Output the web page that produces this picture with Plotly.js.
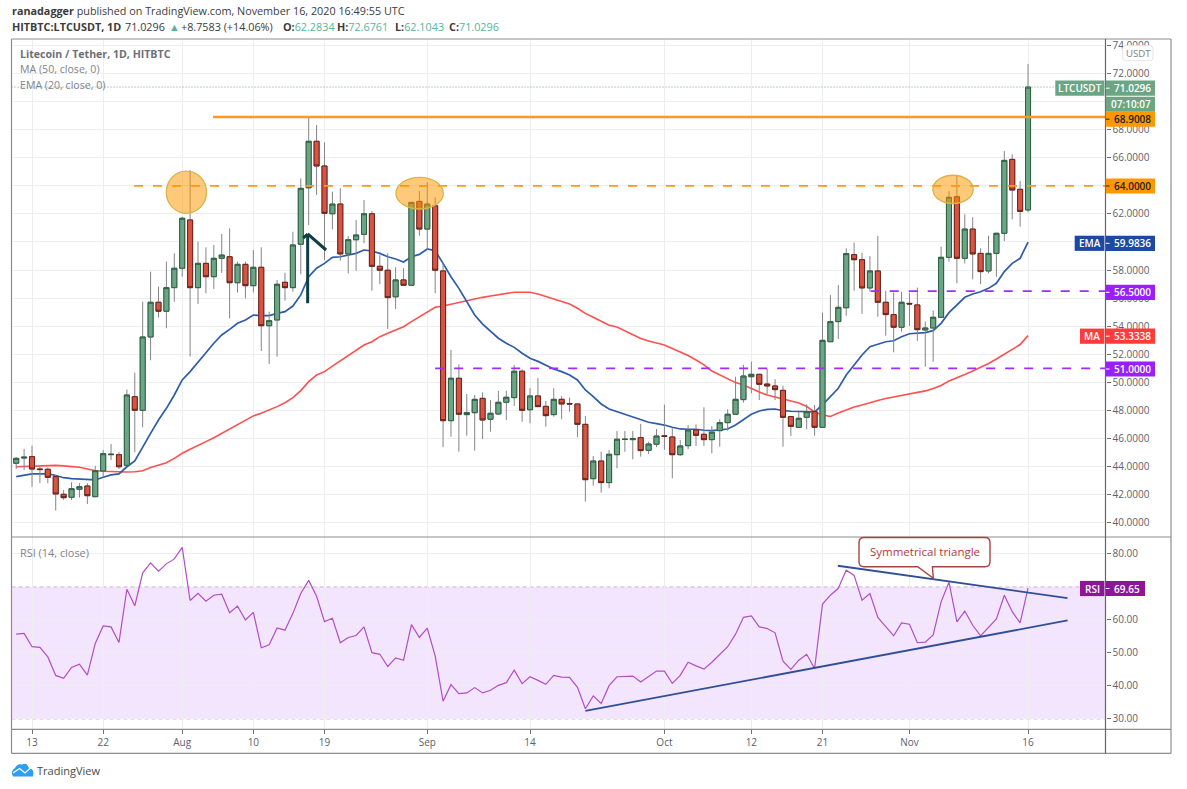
<!DOCTYPE html>
<html><head><meta charset="utf-8">
<script src="https://cdn.plot.ly/plotly-3.0.1.min.js"></script>
<style>html,body{margin:0;padding:0;background:#fff}#c{width:1187px;height:789px}</style></head>
<body><div id="c"></div>
<script>
// ---------- data ----------
const firstDay = Date.UTC(2020, 6, 11);
const openVals = [
44.25,44.62,44.72,43.84,43.82,43.30,42.04,41.83,42.40,42.63,
41.87,43.70,44.86,44.86,44.10,48.99,48.02,53.24,55.71,55.07,
56.75,58.13,61.57,56.75,58.48,57.53,58.84,58.95,57.10,58.41,
56.89,58.20,54.04,54.45,57.13,56.75,59.84,63.86,67.17,65.41,
62.01,62.70,59.15,60.16,60.55,62.01,58.27,57.99,56.10,57.30,
56.92,62.89,60.92,62.58,57.94,47.28,50.30,47.71,47.85,48.87,
47.38,47.76,48.59,48.92,50.80,48.06,49.04,48.30,47.71,48.80,
48.50,48.47,47.02,43.15,44.41,42.87,44.86,45.94,45.93,46.07,
45.17,45.60,46.20,46.12,44.86,45.50,46.62,46.31,45.93,46.57,
47.14,47.74,48.78,50.41,50.58,49.89,49.75,49.44,47.57,46.81,
47.52,47.92,46.81,52.90,54.33,55.32,59.10,58.74,56.73,57.94,
55.71,54.83,53.93,55.63,55.52,53.74,53.88,54.64,58.91,63.22,
58.84,60.92,59.19,57.94,59.19,60.62,65.88,63.75,62.2834];
const closeVals = [
44.60,44.68,43.84,43.80,43.25,42.06,41.80,42.44,42.58,41.94,
43.72,44.93,44.89,44.00,49.11,48.02,53.24,55.71,55.07,56.75,
58.13,61.69,56.75,58.48,57.53,58.84,59.07,57.10,58.41,56.89,
58.20,54.04,54.40,56.99,56.75,59.79,63.82,67.17,65.41,62.04,
62.70,59.15,60.16,60.50,62.01,58.27,57.99,56.04,57.30,56.92,
62.82,60.92,62.70,57.99,47.28,50.30,47.74,47.85,48.80,47.33,
47.81,48.59,48.95,50.80,48.02,49.04,48.28,47.64,48.80,48.47,
48.47,47.02,43.08,44.41,42.87,44.89,45.96,45.96,46.00,45.15,
45.62,46.19,46.17,44.86,45.48,46.62,46.24,45.93,46.46,47.14,
47.74,48.80,50.46,50.58,49.87,49.75,49.49,47.52,46.88,47.45,
47.92,46.81,53.00,54.33,55.35,59.17,58.74,56.73,57.94,55.71,
54.83,53.93,55.71,55.59,53.76,53.88,54.64,58.91,63.18,58.84,
60.92,59.15,57.89,59.19,60.62,65.81,63.70,62.18,71.0296];
const highVals = [
44.68,45.27,45.50,44.00,43.95,43.42,42.35,42.90,42.83,42.83,
44.06,45.20,45.62,45.05,49.50,50.70,55.75,57.89,56.82,58.60,
59.20,61.80,65.12,60.02,59.62,59.79,60.57,60.97,58.60,58.60,
59.43,59.62,55.04,57.30,57.81,60.73,64.53,68.87,68.33,67.10,
63.58,63.82,60.43,61.57,62.99,62.21,59.07,59.20,58.20,58.13,
62.85,63.63,64.25,63.18,58.55,52.31,51.30,49.18,49.11,49.30,
48.75,49.40,49.40,51.25,50.94,49.59,50.30,48.68,49.59,49.04,
48.92,48.47,47.62,44.77,45.07,45.20,46.55,46.55,46.55,47.05,
45.79,46.69,48.42,46.74,45.91,46.97,47.02,48.23,46.90,47.38,
48.09,50.41,51.25,51.48,50.58,50.96,50.23,49.77,47.57,47.92,
48.45,48.40,54.97,56.23,56.94,59.55,59.95,59.24,59.00,60.43,
56.53,56.39,56.46,56.39,56.75,54.33,55.11,59.67,63.63,64.77,
61.97,61.76,59.55,60.45,60.65,66.47,66.24,64.34,72.6761];
const lowVals = [
43.84,43.77,42.58,42.83,42.83,40.88,41.64,41.64,41.80,41.35,
41.87,43.30,44.48,43.84,44.05,45.03,46.81,51.58,54.61,53.86,
55.75,57.53,51.84,55.59,56.35,56.65,57.80,54.57,56.40,55.99,
56.40,52.24,51.32,51.84,55.82,56.46,57.70,61.20,63.35,58.72,
60.90,58.67,57.77,57.94,59.91,56.53,56.99,53.81,55.23,56.90,
56.90,60.45,59.43,56.35,45.39,46.14,45.07,46.21,45.15,45.96,
46.50,47.69,47.33,48.33,47.20,47.10,48.25,46.85,47.57,47.38,
47.92,46.10,41.52,42.65,42.16,42.47,43.89,45.07,44.53,44.72,
44.91,45.39,45.20,43.18,44.77,45.25,45.48,45.48,44.96,45.43,
46.57,47.70,48.56,49.23,48.75,49.18,48.75,45.43,46.19,46.80,
46.67,46.21,46.80,52.90,53.10,54.75,56.53,54.88,56.46,54.68,
53.33,52.15,53.62,54.02,52.97,51.12,51.48,54.60,58.60,57.06,
58.48,57.34,56.99,57.77,57.53,60.07,61.62,61.09,62.1043];
const emaVals = [
43.30,43.40,43.49,43.50,43.51,43.38,43.22,43.16,43.11,43.08,
43.06,43.25,43.42,43.49,44.00,44.41,45.43,46.38,47.33,48.16,
49.11,50.18,50.77,51.48,52.12,52.79,53.38,53.78,54.21,54.45,
54.80,54.76,54.76,54.92,55.04,55.44,56.23,57.53,58.13,58.48,
58.91,58.95,59.07,59.19,59.43,59.36,59.19,58.95,58.79,58.58,
58.95,59.12,59.50,59.38,58.48,57.53,56.70,55.75,54.80,54.16,
53.62,53.15,52.79,52.50,52.08,51.72,51.50,51.20,50.96,50.77,
50.53,50.18,49.47,48.99,48.47,48.11,47.92,47.74,47.57,47.33,
47.17,47.07,46.97,46.81,46.69,46.67,46.67,46.60,46.57,46.62,
46.69,46.97,47.33,47.74,47.97,48.09,48.11,47.99,47.95,47.92,
47.92,47.90,48.40,48.99,49.59,50.53,51.25,51.96,52.55,52.74,
52.90,52.97,53.26,53.47,53.50,53.55,53.69,54.21,54.97,55.52,
56.06,56.30,56.46,56.70,57.06,57.89,58.48,58.84,59.9836];
const maVals = [
44.00,44.02,44.04,44.08,44.13,44.10,44.06,44.01,43.96,43.84,
43.72,43.68,43.65,43.63,43.63,43.65,43.72,43.94,44.13,44.29,
44.60,44.96,45.25,45.50,45.79,46.07,46.38,46.67,46.97,47.28,
47.62,47.81,48.02,48.28,48.56,48.92,49.42,50.06,50.53,50.77,
51.17,51.55,51.91,52.26,52.67,52.90,53.26,53.50,53.74,53.97,
54.33,54.68,55.04,55.35,55.44,55.57,55.68,55.80,55.94,56.06,
56.16,56.25,56.32,56.42,56.42,56.42,56.30,56.11,55.94,55.78,
55.59,55.28,54.92,54.64,54.38,54.07,53.95,53.67,53.38,53.13,
52.95,52.81,52.67,52.42,52.17,51.92,51.60,51.25,50.82,50.53,
50.25,49.99,49.82,49.54,49.32,49.11,48.97,48.86,48.68,48.54,
48.29,47.90,47.69,47.58,47.83,48.04,48.26,48.40,48.58,48.72,
48.86,48.97,49.07,49.18,49.29,49.40,49.57,49.79,50.11,50.32,
50.57,50.82,51.06,51.35,51.67,52.03,52.38,52.70,53.3338];
const rsiVals = [
55.7,55.9,51.9,51.7,48.8,43.2,42.3,45.6,46.6,43.3,
52.9,58.2,57.9,53.2,69.3,64.3,74.3,77.3,74.8,77.0,
78.5,82.0,65.9,68.1,65.7,67.5,67.8,62.2,64.2,60.0,
62.3,51.6,52.5,57.6,56.9,62.0,68.0,72.0,67.2,59.5,
60.5,53.1,54.7,55.3,57.9,50.1,49.6,45.9,48.5,47.8,
58.6,54.7,57.5,49.1,35.4,40.4,37.7,37.9,39.5,37.9,
38.7,40.2,41.0,44.8,40.7,42.8,41.7,40.5,43.2,42.7,
42.6,39.6,33.1,37.0,34.7,40.1,42.8,42.8,43.0,41.2,
42.8,44.5,44.5,40.8,43.2,47.2,46.1,45.1,47.2,49.6,
51.9,55.7,60.8,61.2,57.9,57.4,56.1,47.5,45.0,47.8,
49.6,45.3,64.8,67.5,69.6,75.1,73.5,66.0,68.0,60.8,
57.9,55.2,59.1,58.7,53.1,53.3,55.5,65.5,71.4,59.4,
62.7,58.4,55.2,57.6,60.3,67.5,62.5,59.1,69.65];
const tickDates = ['2020-07-13','2020-07-22','2020-08-01','2020-08-10','2020-08-19','2020-09-01','2020-09-14','2020-10-01','2020-10-12','2020-10-21','2020-11-01','2020-11-16'];
const tickLabels = ['13','22','Aug','10','19','Sep','14','Oct','12','21','Nov','16'];
const priceTicks = [40,42,44,46,48,50,52,54,56,58,60,62,64,66,68,70,72,74];
const priceTickLabels = ['40.0000','42.0000','44.0000','46.0000','48.0000','50.0000','52.0000','54.0000','56.0000','58.0000','60.0000','62.0000','','66.0000','68.0000','','72.0000','74.0000'];
const rsiTicks = [30,40,50,60,80];
const resistanceLevel = 68.9008, neckLevel = 64, upperSupport = 56.5, lowerSupport = 51, lastClose = 71.0296;
const rsiBandLow = 30, rsiBandHigh = 70;

// ---------- helpers ----------
const day = i => new Date(firstDay + i * 864e5).toISOString();
const dates = openVals.map((_, i) => day(i));
const px = x => x / 1187, py = y => 1 - y / 789;
const FONT = '"Open Sans", sans-serif';
const GRID = '#eeeeee', AX = '#6f6f6f', TXT = '#5d606b';
const bodyTop = openVals.map((o, i) => Math.max(o, closeVals[i]));
const bodyBot = openVals.map((o, i) => Math.min(o, closeVals[i]));

const GREEN = '#6ba583', GREEN_L = '#2c5f42', RED = '#d75442', RED_L = '#6b2018';

const traces = [
  {type:'scatter',mode:'lines',x:dates,y:maVals,xaxis:'x',yaxis:'y',line:{color:'#ff5050',width:1.6},hoverinfo:'skip'},
  {type:'scatter',mode:'lines',x:dates,y:emaVals,xaxis:'x',yaxis:'y',line:{color:'#2d5cab',width:1.7},hoverinfo:'skip'},
  {type:'candlestick',x:dates,open:openVals,high:highVals,low:lowVals,close:closeVals,xaxis:'x',yaxis:'y3',
   increasing:{line:{color:'#858587',width:1},fillcolor:GREEN},decreasing:{line:{color:'#858587',width:1},fillcolor:RED},whiskerwidth:0,hoverinfo:'skip'},
  {type:'candlestick',x:dates,open:openVals,high:bodyTop,low:bodyBot,close:closeVals,xaxis:'x',yaxis:'y3',
   increasing:{line:{color:GREEN_L,width:1},fillcolor:GREEN},decreasing:{line:{color:RED_L,width:1},fillcolor:RED},whiskerwidth:0,hoverinfo:'skip'},
  {type:'scatter',mode:'lines',x:dates,y:rsiVals,xaxis:'x2',yaxis:'y2',line:{color:'#b04fc6',width:1.2},hoverinfo:'skip'}
];

const pr = [day(-0.595), day(137.8)];
const yRange = [39.0, 74.45];
const common = {gridcolor:GRID,gridwidth:1,zeroline:false,showline:false,tickfont:{family:FONT,size:10,color:TXT},ticks:'outside',ticklen:4,tickcolor:AX,tickwidth:1};

const shapes = [];
shapes.push({type:'rect',layer:'below',xref:'x2',yref:'y2',x0:pr[0],x1:pr[1],y0:rsiBandLow,y1:rsiBandHigh,fillcolor:'#f3e5fd',line:{width:0}});
[rsiBandLow,rsiBandHigh].forEach(v=>shapes.push({type:'line',layer:'below',xref:'x2',yref:'y2',x0:pr[0],x1:pr[1],y0:v,y1:v,line:{color:'#c8b4cc',width:1,dash:'4px,3px'}}));
shapes.push({type:'line',xref:'x',yref:'y',x0:pr[0],x1:pr[1],y0:lastClose,y1:lastClose,line:{color:GREEN,width:1,dash:'1px,2px'}});
shapes.push({type:'line',xref:'x',yref:'y',x0:day(24.9),x1:pr[1],y0:resistanceLevel,y1:resistanceLevel,line:{color:'#ff9820',width:2.5}});
const DASH='9px,10px';
shapes.push({type:'line',xref:'x',yref:'y',x0:day(14.9),x1:pr[1],y0:neckLevel,y1:neckLevel,line:{color:'#ff9820',width:1.8,dash:DASH}});
shapes.push({type:'line',xref:'x',yref:'y',x0:day(108.1),x1:pr[1],y0:upperSupport,y1:upperSupport,line:{color:'#a42bff',width:1.8,dash:DASH}});
shapes.push({type:'line',xref:'x',yref:'y',x0:day(53),x1:pr[1],y0:lowerSupport,y1:lowerSupport,line:{color:'#a42bff',width:1.8,dash:DASH}});
[[18.99,24.07,65.05,62.04],[48.04,54.03,64.6,62.35],[115.96,121.06,64.75,62.74]].forEach(c=>shapes.push({type:'circle',xref:'x',yref:'y',x0:day(c[0]),x1:day(c[1]),y0:c[3],y1:c[2],fillcolor:'rgba(255,152,0,0.52)',line:{color:'#d8b44a',width:1.3}}));
[[36.87,55.64,36.87,60.57],[36.87,60.57,39.2,59.43],[36.87,60.57,36.3,60.28]].forEach(a=>shapes.push({type:'line',xref:'x',yref:'y',x0:day(a[0]),y0:a[1],x1:day(a[2]),y1:a[3],line:{color:'#0e3d42',width:3}}));
[[103.94,76.43,133,66.63],[72,32.43,133,59.86]].forEach(a=>shapes.push({type:'line',xref:'x2',yref:'y2',x0:day(a[0]),y0:a[1],x1:day(a[2]),y1:a[3],line:{color:'#2f4f96',width:1.8}}));

const paperLine=(x0,y0,x1,y1,c,w)=>shapes.push({type:'line',xref:'paper',yref:'paper',x0:px(x0),x1:px(x1),y0:py(y0),y1:py(y1),line:{color:c,width:w}});
paperLine(11.5,39,1171,39,'#8d8d8d',1.2);
paperLine(11.5,537,1171,537,'#8d8d8d',1.2);
paperLine(11.5,729.3,1171,729.3,'#8d8d8d',1.2);
paperLine(11.5,753.3,1171,753.3,'#8d8d8d',1.2);
paperLine(11.5,39,11.5,753.3,'#8d8d8d',1.2);
paperLine(1171,39,1171,753.3,'#8d8d8d',1.2);
paperLine(1105.5,39,1105.5,753.3,'#666',1.2);

const annotations = [];
const T=(text,x,y,o={})=>annotations.push(Object.assign({text,xref:'paper',yref:'paper',x:px(x),y:py(y),xanchor:'left',yanchor:'middle',showarrow:false,borderpad:0,font:{family:FONT,size:10.6,color:TXT}},o));
const box=(x0,y0,x1,y1,c)=>shapes.push({type:'rect',xref:'paper',yref:'paper',x0:px(x0),x1:px(x1),y0:py(y0),y1:py(y1),fillcolor:c,line:{width:0}});
const lbl=(t,x,yc,c)=>T(t,x,yc,{font:{family:FONT,size:10,color:c,weight:600}});

function tag(value,yc,color,txt,right){
  box(1105.8,yc-7.6,right||1155,yc+7.6,color);
  paperLine(1105.8,yc,1109.5,yc,txt,1);
  lbl(value,1113,yc,txt);
}
function nameTag(name,x0,yc,color){
  box(x0,yc-7.6,1104.4,yc+7.6,color);
  T(name,(x0+1104.4)/2,yc,{xanchor:'center',font:{family:FONT,size:10,color:'#fff',weight:600}});
}
nameTag('LTCUSDT',1055.3,88.2,GREEN);
tag('71.0296',88.2,GREEN,'#fff');
box(1105.8,96.7,1155,111.7,GREEN); lbl('07:10:07',1109.5,104.2,'#fff');
tag('68.9008',119.2,'#ff9800','#20222b');
tag('64.0000',186,'#ff9800','#20222b');
nameTag('EMA',1074.7,243.3,'#1c4aa0');
tag('59.9836',243.3,'#1c4aa0','#fff');
tag('56.5000',292.3,'#9a1fff','#fff');
nameTag('MA',1080,336.2,'#ff3b3b');
tag('53.3338',336.2,'#ff3b3b','#fff');
tag('51.0000',369,'#9a1fff','#fff');
nameTag('RSI',1080,588.5,'#8e1599');
tag('69.65',588.5,'#8e1599','#fff',1145);

const rr=(x0,y0,x1,y1,r)=>`M${px(x0+r)} ${py(y0)} L${px(x1-r)} ${py(y0)} Q${px(x1)} ${py(y0)} ${px(x1)} ${py(y0+r)} L${px(x1)} ${py(y1-r)} Q${px(x1)} ${py(y1)} ${px(x1-r)} ${py(y1)}`;
shapes.push({type:'path',xref:'paper',yref:'paper',fillcolor:'#fff',line:{color:'#e3e5ec',width:1},
 path:rr(1122.7,45.7,1153,60.7,3)+` L${px(1125.7)} ${py(60.7)} Q${px(1122.7)} ${py(60.7)} ${px(1122.7)} ${py(57.7)} L${px(1122.7)} ${py(48.7)} Q${px(1122.7)} ${py(45.7)} ${px(1125.7)} ${py(45.7)} Z`});
T('USDT',1138,53.2,{xanchor:'center',font:{family:FONT,size:9.6,color:'#7d8089'}});
shapes.push({type:'path',xref:'paper',yref:'paper',fillcolor:'#fff',line:{color:'#a94442',width:1.4},
 path:rr(859,537.5,990,566.7,5)+` L${px(932.4)} ${py(566.7)} L${px(933.3)} ${py(578.3)} L${px(917.7)} ${py(566.7)} L${px(864)} ${py(566.7)} Q${px(859)} ${py(566.7)} ${px(859)} ${py(561.7)} L${px(859)} ${py(542.5)} Q${px(859)} ${py(537.5)} ${px(864)} ${py(537.5)} Z`});
T('Symmetrical triangle',924.5,551.5,{xanchor:'center',font:{family:FONT,size:11.5,color:'#b03a3a'}});

const v=s=>`<span style="color:#55b5a0">${s}</span>`;
const H={font:{family:FONT,size:10.8,color:'#3b3b3b'}};
T('<b>ranadagger</b> published on TradingView.com, November 16, 2020 16:49:55 UTC',11,11,H);
T('<b>HITBTC:LTCUSDT, 1D</b>',11,26.7,H);
T('71.0296',124,26.7,H);
T(v('▲'),167.5,26.7,H);
T('+8.7583 (+14.06%)',180,26.7,H);
T(`<b>O:</b>${v('62.2834')}`,281.6,26.7,H);
T(`<b>H:</b>${v('72.6761')}`,336,26.7,H);
T(`<b>L:</b>${v('62.1043')}`,393.5,26.7,H);
T(`<b>C:</b>${v('71.0296')}`,447.5,26.7,H);
T('<b>Litecoin / Tether, 1D, HITBTC</b>',19,54,{font:{family:FONT,size:10.6,color:'#6d7079'}});
T('MA (50, close, 0)',19,69,{font:{family:FONT,size:10.6,color:'#80838c'}});
T('EMA (20, close, 0)',19,84.5,{font:{family:FONT,size:10.6,color:'#80838c'}});
T('RSI (14, close)',19,552,{font:{family:FONT,size:10.9,color:'#80838c'}});
shapes.push({type:'path',xref:'paper',yref:'paper',fillcolor:'#2e9ef0',line:{width:0},
 path:`M${px(13)} ${py(776.5)} Q${px(10)} ${py(771)} ${px(15)} ${py(768)} Q${px(17.5)} ${py(763)} ${px(22)} ${py(764.5)} Q${px(27)} ${py(762)} ${px(28.5)} ${py(767.5)} Q${px(35)} ${py(769)} ${px(33)} ${py(776.5)} Z`});
shapes.push({type:'path',xref:'paper',yref:'paper',line:{color:'#fff',width:1.2},
 path:`M${px(13)} ${py(773)} L${px(19.5)} ${py(768.5)} L${px(25)} ${py(773)} L${px(31)} ${py(767.5)}`});
T('TradingView',36,770.5,{font:{family:FONT,size:11,color:'#4a4a4a'}});

const layout = {
  width:1187,height:789,margin:{l:0,r:0,t:0,b:0},paper_bgcolor:'#fff',plot_bgcolor:'#fff',showlegend:false,hovermode:false,dragmode:false,boxmode:'overlay',boxgap:0.2,boxgroupgap:0.2,
  xaxis:Object.assign({},common,{type:'date',domain:[px(11.5),px(1105.5)],anchor:'y',range:pr,tickmode:'array',tickvals:tickDates,ticktext:tickLabels,showticklabels:false,ticks:'',rangeslider:{visible:false}}),
  xaxis2:Object.assign({},common,{type:'date',domain:[px(11.5),px(1105.5)],anchor:'y2',range:pr,tickmode:'array',tickvals:tickDates,ticktext:tickLabels,rangeslider:{visible:false}}),
  yaxis:Object.assign({},common,{domain:[py(537),py(39)],anchor:'x',side:'right',range:yRange,tickmode:'array',tickvals:priceTicks,ticktext:priceTickLabels}),
  yaxis3:{domain:[py(537),py(39)],anchor:'x',overlaying:'y',side:'right',range:yRange,visible:false,showgrid:false,zeroline:false},
  yaxis2:Object.assign({},common,{domain:[py(729.3),py(537)],anchor:'x2',side:'right',range:[26.87,85.14],tickmode:'array',tickvals:rsiTicks,tickformat:'.2f'}),
  shapes,annotations
};
Plotly.newPlot('c',traces,layout,{displayModeBar:false,staticPlot:true});
</script></body></html>
